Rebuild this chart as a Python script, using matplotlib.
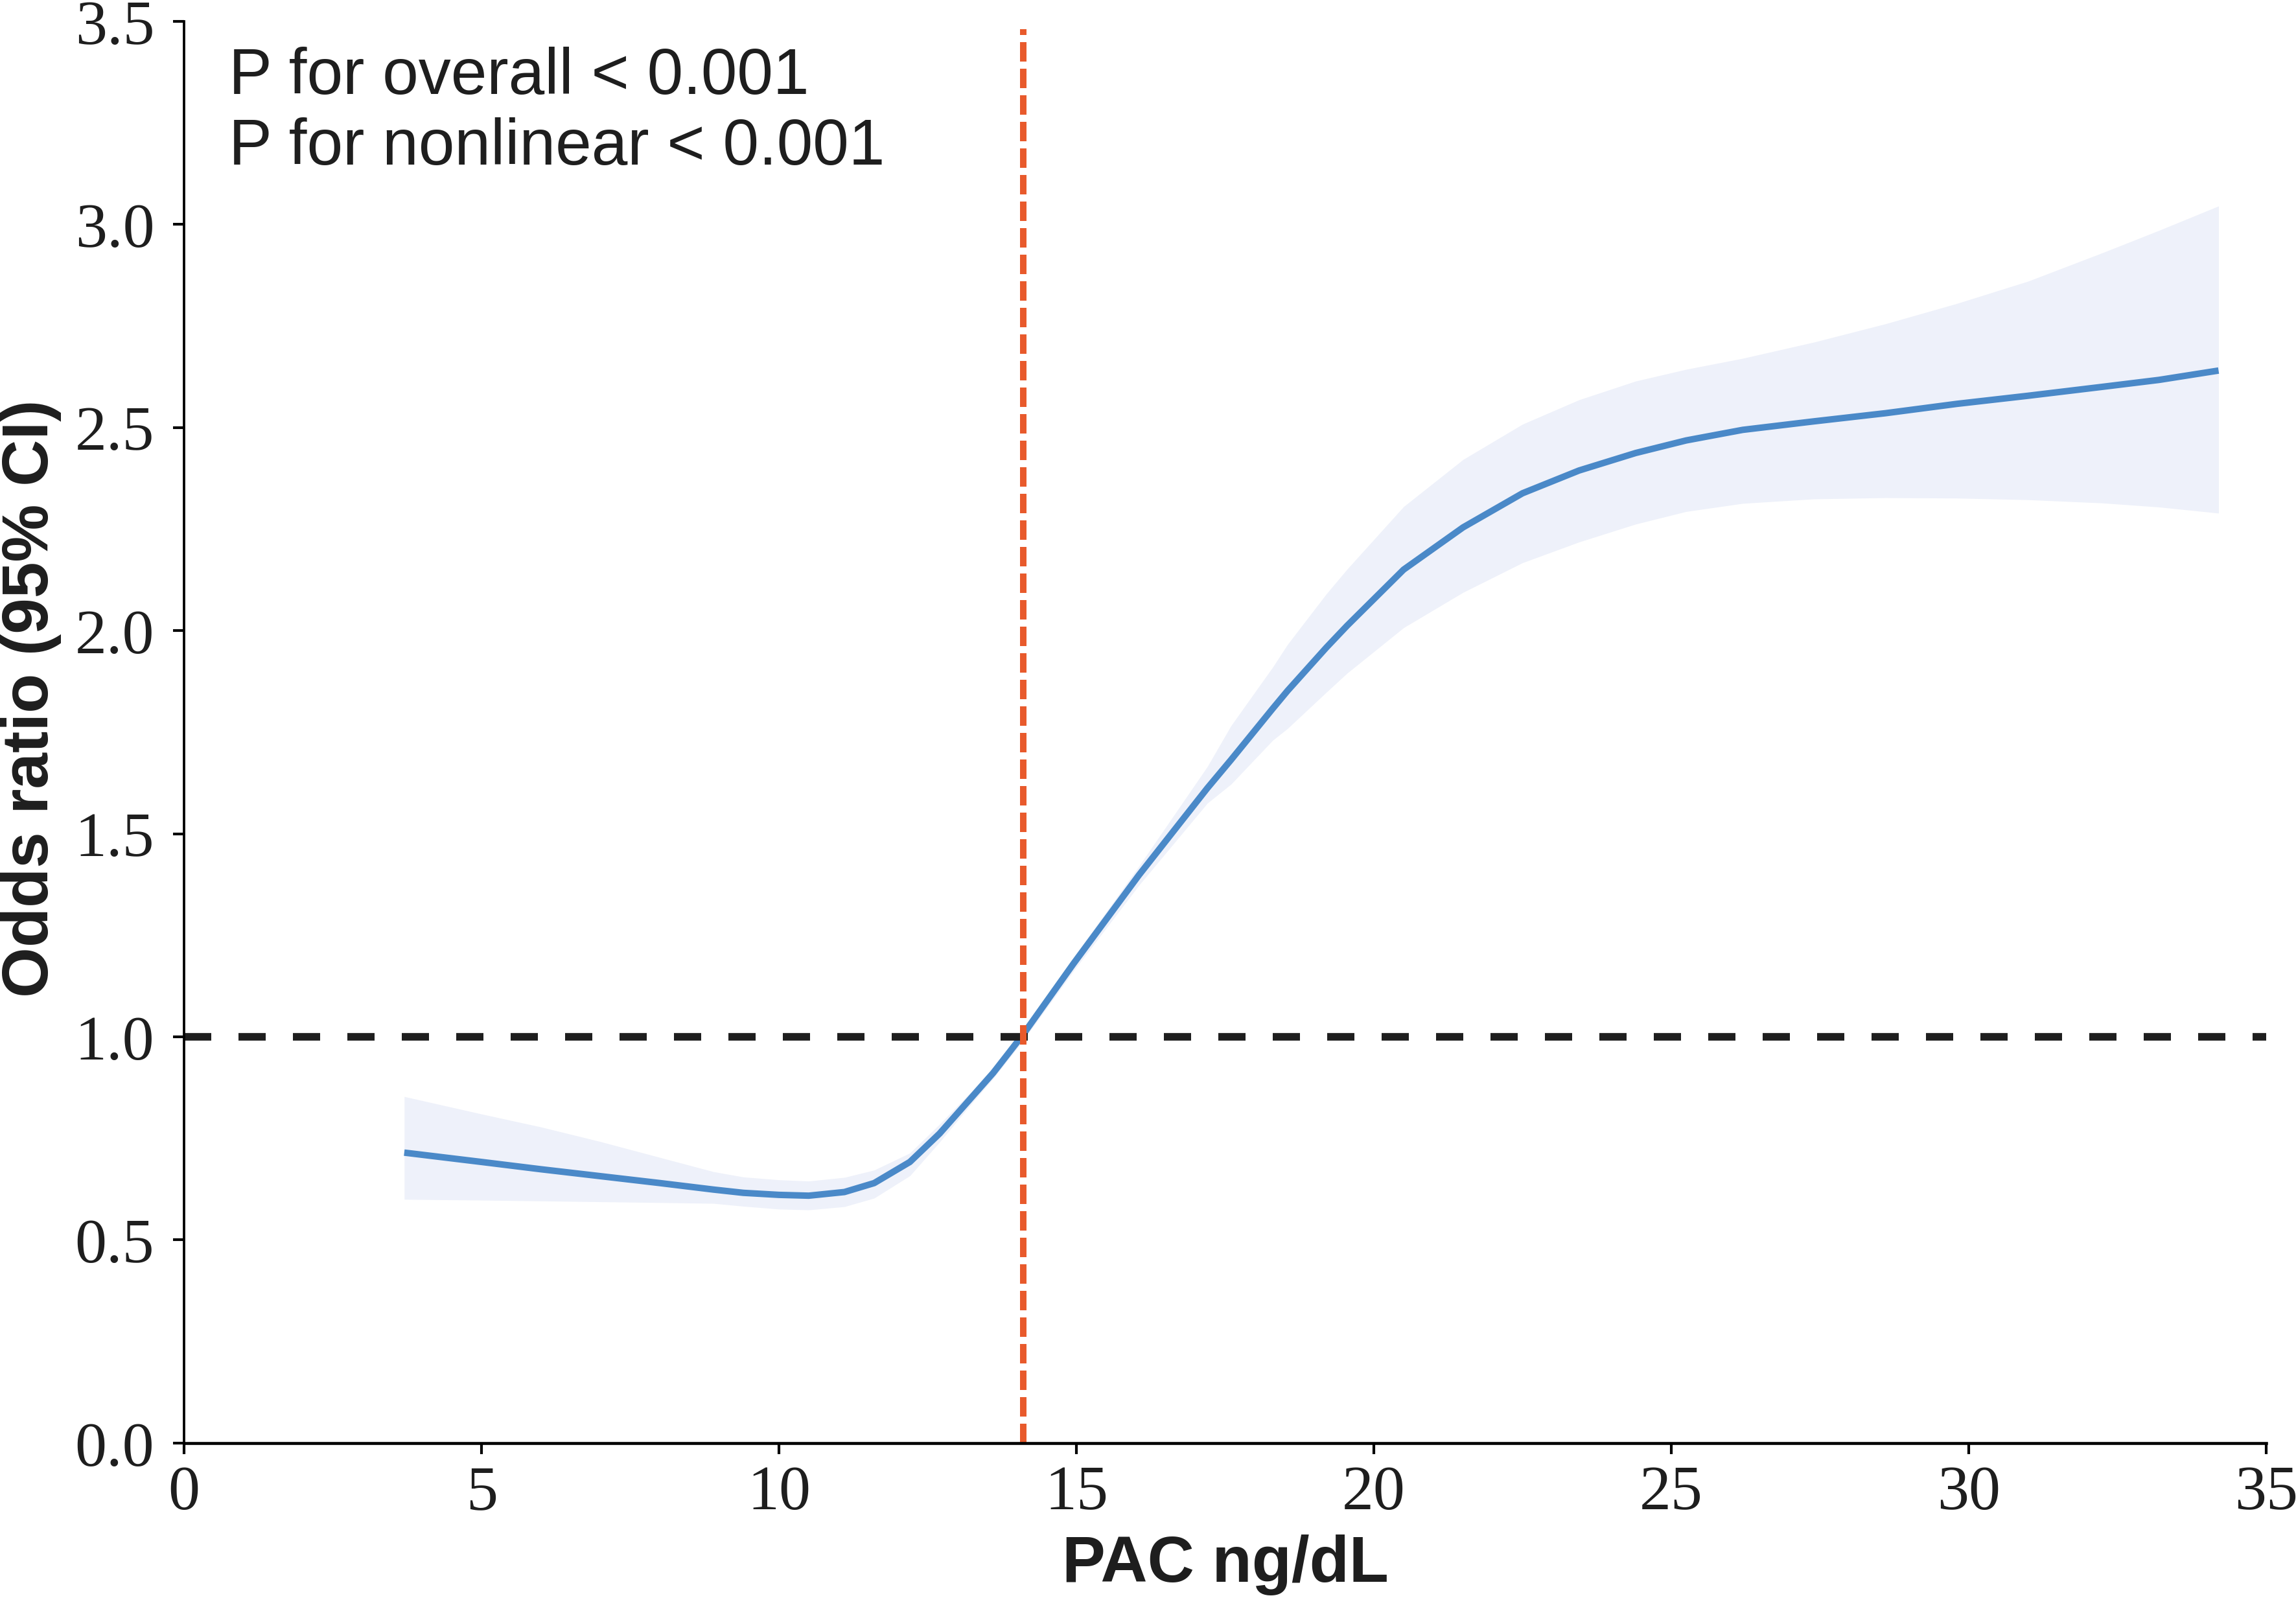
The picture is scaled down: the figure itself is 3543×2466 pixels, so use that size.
import matplotlib.pyplot as plt
import numpy as np

# values
pac = [3.7, 5, 6, 7, 8, 8.9, 9.4, 10.0, 10.5, 11.1, 11.6, 12.2, 12.7, 13.25,
       13.6, 14.1, 14.95, 16.05, 17.2, 17.6, 18.3, 18.55, 19.2, 19.55, 20.5,
       21.5, 22.5, 23.45, 24.4, 25.25, 26.2, 27.4, 28.6, 29.8, 31, 32.25,
       33.2, 34.2]
odds = [0.715, 0.692, 0.674, 0.657, 0.640, 0.624, 0.616, 0.611, 0.609, 0.618,
        0.640, 0.692, 0.762, 0.853, 0.911, 1.005, 1.180, 1.398, 1.612, 1.682,
        1.808, 1.852, 1.958, 2.012, 2.150, 2.254, 2.338, 2.394, 2.437, 2.468,
        2.494, 2.515, 2.535, 2.558, 2.578, 2.600, 2.617, 2.640]
ci_upper = [0.853, 0.810, 0.778, 0.742, 0.703, 0.668, 0.655, 0.648, 0.645, 0.654,
            0.672, 0.714, 0.785, 0.868, 0.925, 1.015, 1.195, 1.420, 1.665, 1.766,
            1.910, 1.966, 2.090, 2.151, 2.305, 2.421, 2.508, 2.568, 2.614, 2.643,
            2.670, 2.710, 2.755, 2.805, 2.860, 2.930, 2.985, 3.045]
ci_lower = [0.600, 0.598, 0.596, 0.594, 0.592, 0.590, 0.583, 0.576, 0.574, 0.582,
            0.603, 0.658, 0.741, 0.838, 0.897, 0.990, 1.162, 1.373, 1.575, 1.622,
            1.730, 1.759, 1.848, 1.895, 2.007, 2.094, 2.167, 2.218, 2.262, 2.293,
            2.313, 2.324, 2.327, 2.326, 2.322, 2.314, 2.304, 2.289]
cutoff = 14.11
ref_or = 1.0
p_texts = ["P for overall < 0.001", "P for nonlinear < 0.001"]

xticks = [0, 5, 10, 15, 20, 25, 30, 35]
yticks = [0.0, 0.5, 1.0, 1.5, 2.0, 2.5, 3.0, 3.5]

fig = plt.figure(figsize=(11.81, 8.223), dpi=300)
ax = fig.add_axes([0.0802, 0.0969, 0.9068, 0.8895])

# доверительный интервал и кривая
ax.fill_between(pac, ci_lower, ci_upper, color='#eef1fa', linewidth=0)
ax.plot(pac, odds, color='#4a89c8', linewidth=2.4, solid_capstyle='butt',
        solid_joinstyle='round')

# опорные линии
ax.axhline(ref_or, color='#1e1e1e', linewidth=2.8, linestyle=(0, (3.6, 3.6)))
ax.vlines(cutoff, 0, 3.48, color='#e85a2c', linewidth=2.4,
          linestyles=[(0, (3.0, 1.1))])

ax.set_xlim(0, 35)
ax.set_ylim(0, 3.5)
ax.set_xticks(xticks)
ax.set_yticks(yticks)
ax.set_xticklabels([str(v) for v in xticks])
ax.set_yticklabels([f"{v:.1f}" for v in yticks])

for lab in ax.get_xticklabels() + ax.get_yticklabels():
    lab.set_fontfamily('Liberation Serif')
    lab.set_fontsize(23.5)
    lab.set_color('#1e1e1e')

ax.tick_params(axis='x', length=4, width=1, pad=4)
ax.tick_params(axis='y', length=4, width=1, pad=7)

ax.spines['top'].set_visible(False)
ax.spines['right'].set_visible(False)
ax.spines['left'].set_linewidth(0.9)
ax.spines['bottom'].set_linewidth(1.1)

ax.set_xlabel("PAC ng/dL", fontfamily='Liberation Sans', fontweight='bold',
              fontsize=24, color='#1e1e1e')
ax.set_ylabel("Odds ratio (95% CI)", fontfamily='Liberation Sans',
              fontweight='bold', fontsize=24, color='#1e1e1e')
ax.xaxis.set_label_coords(0.5, -0.064)
ax.yaxis.set_label_coords(-0.059, 0.524)

ax.text(0.0215, 0.949, p_texts[0], transform=ax.transAxes, va='baseline',
        fontfamily='Liberation Sans', fontsize=24, color='#1e1e1e')
ax.text(0.0215, 0.8995, p_texts[1], transform=ax.transAxes, va='baseline',
        fontfamily='Liberation Sans', fontsize=24, color='#1e1e1e')

fig.savefig("out.png", dpi=300)
